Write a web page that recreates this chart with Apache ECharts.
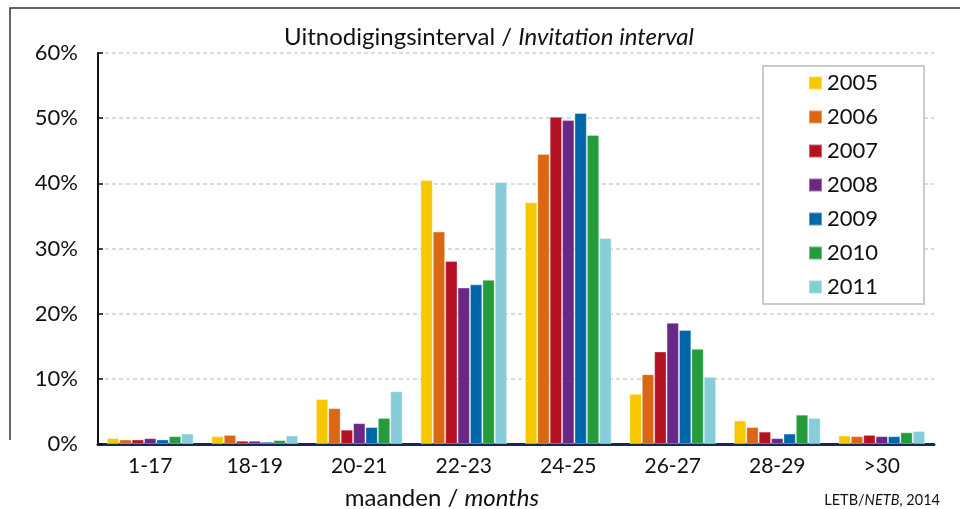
<!DOCTYPE html>
<html>
<head>
<meta charset="utf-8">
<script src="https://cdn.jsdelivr.net/npm/echarts@6/dist/echarts.min.js"></script>
<style>html,body{margin:0;padding:0;background:#fff}#c{width:960px;height:509px}</style>
</head>
<body>
<div id="c"></div>
<script>
const categories = ['1-17', '18-19', '20-21', '22-23', '24-25', '26-27', '28-29', '>30'];
const years = ['2005', '2006', '2007', '2008', '2009', '2010', '2011'];
const colors = ['#F7C800', '#DA6713', '#B41223', '#692885', '#0067AB', '#259C3C', '#86CDD9'];
const v2005 = [0.9, 1.2, 6.9, 40.5, 37.1, 7.7, 3.6, 1.3];
const v2006 = [0.7, 1.4, 5.5, 32.6, 44.5, 10.7, 2.6, 1.2];
const v2007 = [0.7, 0.5, 2.2, 28.1, 50.2, 14.2, 1.9, 1.4];
const v2008 = [0.9, 0.5, 3.2, 24.0, 49.7, 18.6, 0.9, 1.2];
const v2009 = [0.7, 0.35, 2.6, 24.5, 50.8, 17.5, 1.6, 1.2];
const v2010 = [1.2, 0.6, 4.0, 25.2, 47.4, 14.6, 4.5, 1.8];
const v2011 = [1.6, 1.3, 8.1, 40.2, 31.6, 10.3, 4.0, 2.0];
const yTicks = [0, 10, 20, 30, 40, 50, 60];
const seriesValues = [v2005, v2006, v2007, v2008, v2009, v2010, v2011];

const font = 'Lato';
const chart = echarts.init(document.getElementById('c'));
chart.setOption({
  animation: false,
  textStyle: { fontFamily: font },
  title: [
    {
      text: '{a|Uitnodigingsinterval / }{b|Invitation interval}',
      left: 484, top: 20, textAlign: 'center',
      textStyle: { rich: {
        a: { fontSize: 24, color: '#111', fontWeight: 'normal', fontFamily: font },
        b: { fontSize: 24, color: '#111', fontWeight: 'normal', fontStyle: 'italic', fontFamily: font }
      } }
    },
    {
      text: '{a|maanden / }{b|months}',
      left: 437, top: 481, textAlign: 'center',
      textStyle: { rich: {
        a: { fontSize: 24, color: '#111', fontWeight: 'normal', fontFamily: font },
        b: { fontSize: 24, color: '#111', fontWeight: 'normal', fontStyle: 'italic', fontFamily: font }
      } }
    },
    {
      text: '{a|LETB/}{b|NETB}{a|, 2014}',
      right: 15, top: 488,
      textStyle: { rich: {
        a: { fontSize: 14.5, color: '#111', fontWeight: 'normal', fontFamily: font },
        b: { fontSize: 14.5, color: '#111', fontWeight: 'normal', fontStyle: 'italic', fontFamily: font }
      } }
    }
  ],
  graphic: [
    { type: 'polyline', shape: { points: [[10, 440], [10, 8], [960, 8]] }, style: { stroke: '#333', lineWidth: 1.5, fill: null }, z: 100 }
  ],
  legend: {
    orient: 'vertical',
    left: 763, top: 66,
    padding: [6, 46, 6, 45],
    itemGap: 12,
    itemWidth: 13, itemHeight: 13,
    icon: 'rect',
    backgroundColor: '#fff',
    borderColor: '#bbb', borderWidth: 1.5,
    textStyle: { fontSize: 22, color: '#111', fontFamily: font },
    data: years
  },
  grid: { left: 98, right: 26, top: 53, bottom: 65, containLabel: false },
  xAxis: {
    type: 'category',
    data: categories,
    axisLine: { lineStyle: { color: '#15275C', width: 3 } },
    axisTick: { show: false },
    axisLabel: { fontSize: 21, color: '#111', margin: 12, fontFamily: font },
    splitLine: { show: false }
  },
  yAxis: {
    type: 'value',
    min: 0, max: 60, interval: 10,
    axisLine: { show: true, lineStyle: { color: '#111', width: 2 } },
    axisTick: { show: true, inside: true, length: 5, lineStyle: { color: '#111', width: 1.5 } },
    axisLabel: { fontSize: 22, color: '#111', margin: 20, fontFamily: font, formatter: v => yTicks.includes(v) ? v + '%' : '' },
    splitLine: { show: true, lineStyle: { color: '#cfcfcf', type: [4, 3], width: 1.5 } }
  },
  series: years.map((y, i) => ({
    name: y,
    type: 'bar',
    data: seriesValues[i],
    barGap: '0%',
    barCategoryGap: '17%',
    itemStyle: { color: colors[i], borderColor: 'rgba(255,255,255,0.35)', borderWidth: 1 }
  }))
});
</script>
</body>
</html>
